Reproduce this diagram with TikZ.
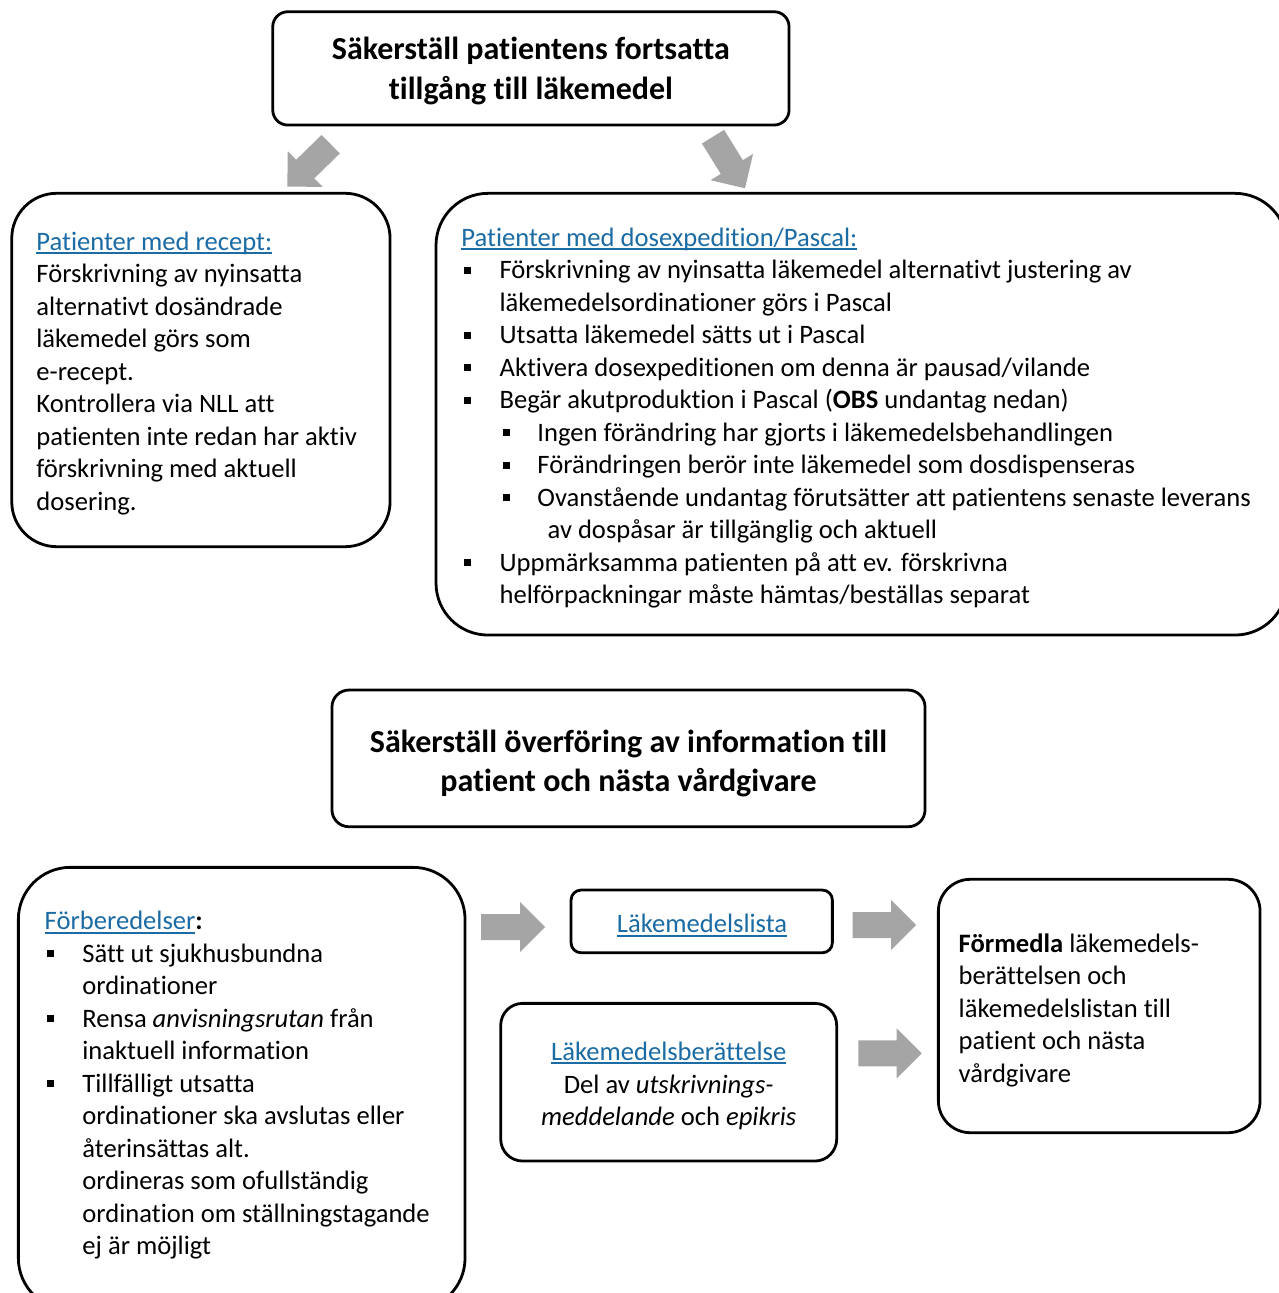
\documentclass[tikz,border=0pt]{standalone}
\usepackage{fontspec}
\setmainfont{Carlito}[Ligatures={NoCommon,NoContextual}]
\definecolor{linkblue}{HTML}{1B6BA5}
\definecolor{arrowgray}{HTML}{A5A5A5}
\newcommand\sqb{\rule[2.6pt]{3.4pt}{3.4pt}}
\newcommand\lnk[1]{\textcolor{linkblue}{\setbox0\hbox{#1}\rlap{\rule[-1.9pt]{\wd0}{0.9pt}}\box0}}
\tikzset{
  box/.style={draw=black, line width=1.4pt, inner sep=0pt},
  txt/.style={anchor=base west, inner sep=0pt, yshift=-0.7pt, font=\fontsize{13.3pt}{16.25pt}\selectfont},
  ctxt/.style={anchor=base, inner sep=0pt, yshift=-0.5pt, font=\fontsize{13.3pt}{16.25pt}\selectfont},
  ttl/.style={anchor=base, inner sep=0pt, font=\fontsize{16pt}{20pt}\selectfont\bfseries},
  pics/barrow/.style={code={\fill[arrowgray] (0,-13)--(#1,-13)--(#1,-25)--(#1+25,0)--(#1,25)--(#1,13)--(0,13)--cycle;}}
}
\begin{document}
\begin{tikzpicture}[x=0.5pt,y=-0.5pt]
\path[use as bounding box, fill=white] (0,0) rectangle (1278,1293);

% boxes
\node[box, rounded corners=7.5pt, minimum width=258.15pt, minimum height=56.65pt] (t1) at (530.9,68.4) {};
\node[box, rounded corners=22.5pt, minimum width=189.15pt, minimum height=176.7pt] (recept) at (200.9,370) {};
\node[box, rounded corners=26pt, minimum width=425.5pt, minimum height=220.85pt] (dos) at (861.5,414.2) {};
\node[box, rounded corners=8.5pt, minimum width=296.55pt, minimum height=68.35pt] (t2) at (628.5,758.4) {};
\node[box, rounded corners=26pt, minimum width=223.35pt, minimum height=221.35pt] (forb) at (241.7,1088.7) {};
\node[box, rounded corners=5pt, minimum width=130.65pt, minimum height=31.35pt] (lista) at (701.7,921.4) {};
\node[box, rounded corners=11pt, minimum width=168pt, minimum height=78.85pt] (ber) at (668.7,1082.2) {};
\node[box, rounded corners=16pt, minimum width=160.85pt, minimum height=126.7pt] (form) at (1099.2,1006) {};

% block arrows
\pic[rotate=224.3] (a1) at (330.7,144.2) {barrow=35.6};
\pic[rotate=-58.2] (a2) at (713,136.7) {barrow=35.7};
\pic (a3) at (481,927) {barrow=39};
\pic (a4) at (852.7,925) {barrow=38.3};
\pic (a5) at (858.3,1053.3) {barrow=38.4};

% title 1
\node[ttl] (t1a) at (530.9,60) {Säkerställ patientens fortsatta};
\node[ttl] (t1b) at (530.9,100) {tillgång till läkemedel};

% recept box text
\node[txt] (r0) at (36,249) {\lnk{Patienter med recept:}};
\node[txt] (r1) at (36,281.5) {Förskrivning av nyinsatta};
\node[txt] (r2) at (36,314) {alternativt dosändrade};
\node[txt] (r3) at (36,346.5) {läkemedel görs som};
\node[txt] (r4) at (36,379) {e-recept.};
\node[txt] (r5) at (36,411.5) {Kontrollera via NLL att};
\node[txt] (r6) at (36,444) {patienten inte redan har aktiv};
\node[txt] (r7) at (36,476.5) {förskrivning med aktuell};
\node[txt] (r8) at (36,509) {dosering.};

% dos box text
\node[txt] (d0) at (461,245) {\lnk{Patienter med dosexpedition/Pascal:}};
\node[txt] (db1) at (463.5,277.5) {\sqb};
\node[txt] (d1) at (499.2,277.5) {Förskrivning av nyinsatta läkemedel alternativt justering av};
\node[txt] (d2) at (499.2,310) {läkemedelsordinationer görs i Pascal};
\node[txt] (db3) at (463.5,342.5) {\sqb};
\node[txt] (d3) at (499.2,342.5) {Utsatta läkemedel sätts ut i Pascal};
\node[txt] (db4) at (463.5,375) {\sqb};
\node[txt] (d4) at (499.2,375) {Aktivera dosexpeditionen om denna är pausad/vilande};
\node[txt] (db5) at (463.5,407.5) {\sqb};
\node[txt] (d5) at (499.2,407.5) {Begär akutproduktion i Pascal (\textbf{OBS} undantag nedan)};
\node[txt] (db6) at (503,440) {\sqb};
\node[txt] (d6) at (537,440) {Ingen förändring har gjorts i läkemedelsbehandlingen};
\node[txt] (db7) at (503,472.5) {\sqb};
\node[txt] (d7) at (537,472.5) {Förändringen berör inte läkemedel som dosdispenseras};
\node[txt] (db8) at (503,505) {\sqb};
\node[txt] (d8) at (537,505) {Ovanstående undantag förutsätter att patientens senaste leverans};
\node[txt] (d9) at (547.3,537.5) {av dospåsar är tillgänglig och aktuell};
\node[txt] (db10) at (463.5,570) {\sqb};
\node[txt] (d10) at (499.2,570) {Uppmärksamma patienten på att ev. förskrivna};
\node[txt] (d11) at (499.2,602.5) {helförpackningar måste hämtas/beställas separat};

% title 2
\node[ttl] (t2a) at (628.5,752) {Säkerställ överföring av information till};
\node[ttl] (t2b) at (628.5,791) {patient och nästa vårdgivare};

% förberedelser box text
\node[txt] (f0) at (44.3,928.3) {\lnk{Förberedelser}\textbf{:}};
\node[txt] (fb1) at (46.7,960.8) {\sqb};
\node[txt] (f1) at (82,960.8) {Sätt ut sjukhusbundna};
\node[txt] (f2) at (82,993.3) {ordinationer};
\node[txt] (fb3) at (46.7,1025.8) {\sqb};
\node[txt] (f3) at (82,1025.8) {Rensa \textit{anvisningsrutan} från};
\node[txt] (f4) at (82,1058.3) {inaktuell information};
\node[txt] (fb5) at (46.7,1090.8) {\sqb};
\node[txt] (f5) at (82,1090.8) {Tillfälligt utsatta};
\node[txt] (f6) at (82,1123.3) {ordinationer ska avslutas eller};
\node[txt] (f7) at (82,1155.8) {återinsättas alt.};
\node[txt] (f8) at (82,1188.3) {ordineras som ofullständig};
\node[txt] (f9) at (82,1220.8) {ordination om ställningstagande};
\node[txt] (f10) at (82,1253.3) {ej är möjligt};

% lista / berättelse
\node[ctxt] (l0) at (702,931.7) {\lnk{Läkemedelslista}};
\node[ctxt] (b0) at (668.7,1059.3) {\lnk{Läkemedelsberättelse}};
\node[ctxt] (b1) at (668.7,1092) {Del av \textit{utskrivnings-}};
\node[ctxt] (b2) at (668.7,1124.7) {\textit{meddelande} och \textit{epikris}};

% förmedla
\node[txt] (m0) at (958.3,951) {\textbf{Förmedla} läkemedels-};
\node[txt] (m1) at (958.3,983.5) {berättelsen och};
\node[txt] (m2) at (958.3,1016) {läkemedelslistan till};
\node[txt] (m3) at (958.3,1048.5) {patient och nästa};
\node[txt] (m4) at (958.3,1081) {vårdgivare};
\end{tikzpicture}
\end{document}
